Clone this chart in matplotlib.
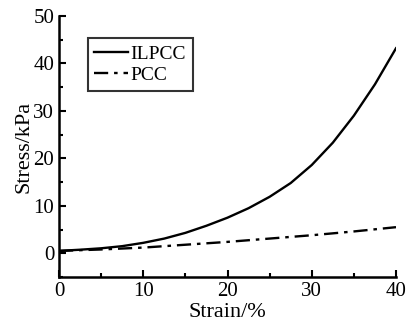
import numpy as np
import matplotlib.pyplot as plt
from matplotlib.ticker import MultipleLocator

plt.rcParams['font.family'] = ['Liberation Serif', 'DejaVu Serif']

strain = [0, 2.5, 5, 7.5, 10, 12.5, 15, 17.5, 20, 22.5, 25, 27.5, 30, 32.5, 35, 37.5, 40]
ilpcc = [0.5, 0.75, 1.05, 1.5, 2.2, 3.1, 4.3, 5.8, 7.5, 9.5, 11.9, 14.8, 18.6, 23.3, 29.0, 35.6, 43.2]
pcc_x = [0, 5, 10, 15, 20, 25, 30, 35, 40]
pcc = [0.5, 0.8, 1.2, 1.8, 2.4, 3.1, 3.8, 4.6, 5.5]

fig = plt.figure(figsize=(4.09, 3.21), dpi=100)
ax = fig.add_axes([59/409, 44/321, 337/409, 261/321])

ax.plot(strain, ilpcc, 'k-', lw=1.7, label='ILPCC')
ax.plot(pcc_x, pcc, 'k', ls=(0, (6, 2.5, 1.5, 2.5)), lw=1.7, label='PCC')

ax.set_xlim(0, 40)
ax.set_ylim(-5, 50)
ax.xaxis.set_major_locator(MultipleLocator(10))
ax.xaxis.set_minor_locator(MultipleLocator(5))
ax.yaxis.set_major_locator(MultipleLocator(10))
ax.yaxis.set_minor_locator(MultipleLocator(5))
ax.tick_params(which='both', direction='in', labelsize=15, width=1.5)
ax.tick_params(which='major', length=5)
ax.tick_params(which='minor', length=3)
ax.spines['top'].set_visible(False)
ax.spines['right'].set_visible(False)
ax.spines['left'].set_linewidth(1.8)
ax.spines['bottom'].set_linewidth(1.8)

ax.set_xlabel('Strain/%', fontsize=16, labelpad=1.5)
ax.set_ylabel('Stress/kPa', fontsize=16, labelpad=0)

leg = ax.legend(loc='upper left', bbox_to_anchor=(0.085, 0.915), fontsize=14,
                frameon=True, fancybox=False, edgecolor='black',
                handlelength=1.7, handletextpad=0.15, borderpad=0.35,
                labelspacing=0.2, borderaxespad=0)
leg.get_frame().set_linewidth(1.5)

fig.savefig('out.png', dpi=100)
